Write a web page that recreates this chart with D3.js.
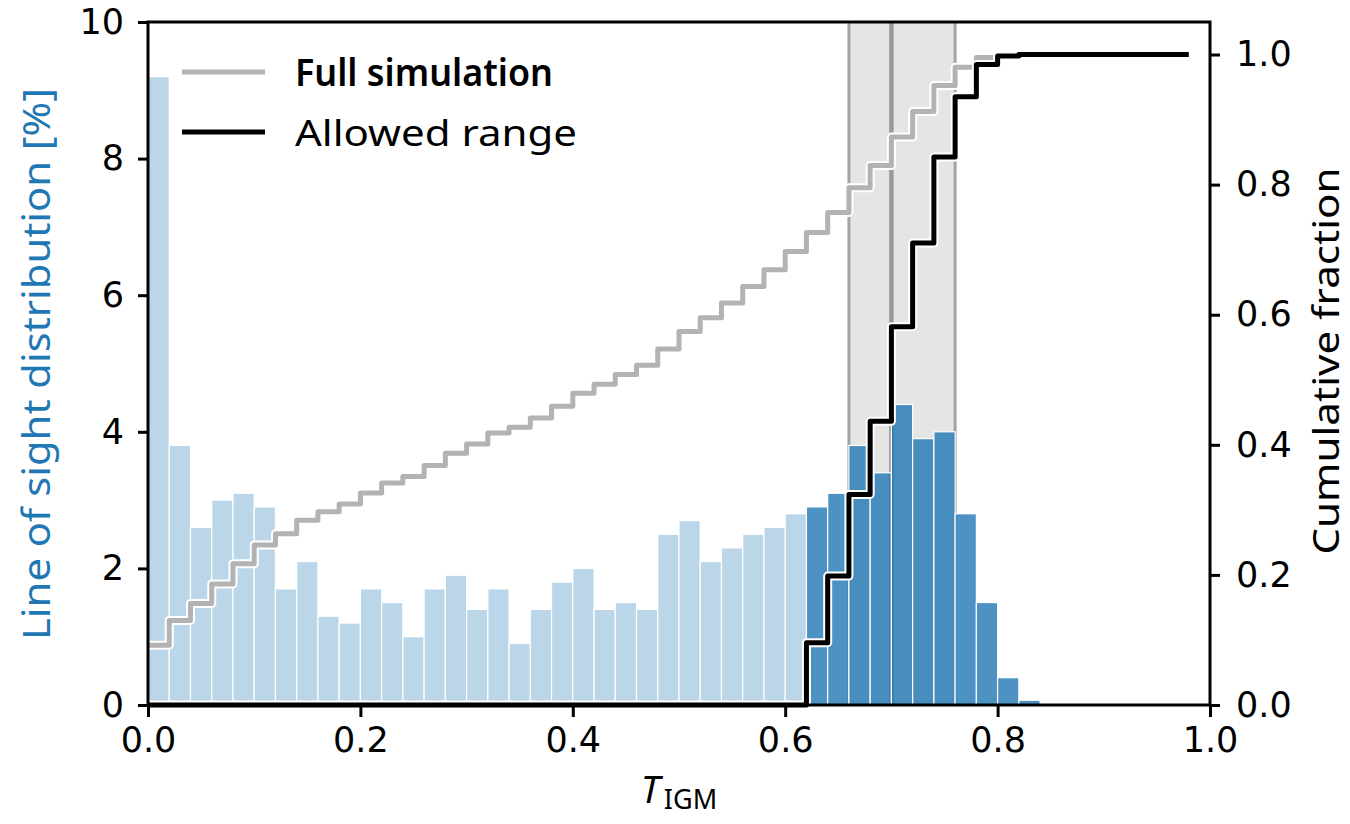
<!DOCTYPE html>
<html>
<head>
<meta charset="utf-8">
<script src="https://cdn.jsdelivr.net/npm/d3@7"></script>
<style>
  body { margin: 0; background: #fff; }
  .tick text { font-family: "DejaVu Sans", sans-serif; font-size: 35px; fill: #000; }
</style>
</head>
<body>
<svg width="1350" height="824"></svg>
<script>
// line of sight distribution per bin of T_IGM (bin width 0.02), in percent
var binStart = d3.range(0, 1, 0.02).map(d => +d.toFixed(2));
var losPct = [
  9.2, 3.8, 2.6, 3.0, 3.1, 2.9, 1.7, 2.1, 1.3, 1.2,
  1.7, 1.5, 1.0, 1.7, 1.9, 1.4, 1.7, 0.9, 1.4, 1.8,
  2.0, 1.4, 1.5, 1.4, 2.5, 2.7, 2.1, 2.3, 2.5, 2.6,
  2.8, 2.9, 3.1, 3.8, 3.4, 4.4, 3.9, 4.0, 2.8, 1.5,
  0.4, 0.07, 0, 0, 0, 0, 0, 0, 0, 0
];
var allowedMin = 0.62;           // bins from here on are the allowed range
var spanRange = [0.66, 0.76];    // shaded band
var spanLines = [0.66, 0.70, 0.76];
var xTicks = [0, 0.2, 0.4, 0.6, 0.8, 1.0];
var yTicks = [0, 2, 4, 6, 8, 10];
var cTicks = [0, 0.2, 0.4, 0.6, 0.8, 1.0];

var svg = d3.select("svg"),
  margin = {left: 148, right: 140, top: 22, bottom: 119},
  width = +svg.attr("width") - margin.left - margin.right,
  height = +svg.attr("height") - margin.top - margin.bottom;

var x = d3.scaleLinear().domain([0, 1]).range([0, width]);
var y = d3.scaleLinear().domain([0, 10]).range([height, 0]);
var yc = d3.scaleLinear().domain([0, 1.05]).range([height, 0]);

var g = svg.append("g").attr("transform", "translate(" + margin.left + "," + margin.top + ")");

// shaded band and its edges
g.append("rect")
  .attr("x", x(spanRange[0]))
  .attr("y", 0)
  .attr("width", x(spanRange[1]) - x(spanRange[0]))
  .attr("height", height)
  .attr("fill", "#e5e5e5");

g.selectAll(".vline")
  .data(spanLines)
  .enter().append("line")
  .attr("x1", d => x(d)).attr("x2", d => x(d))
  .attr("y1", 0).attr("y2", height)
  .attr("stroke", (d, i) => i == 1 ? "#999999" : "#a4a4a4")
  .attr("stroke-width", (d, i) => i == 1 ? 4.5 : 3);

// histogram bars
var bins = binStart.map(function(s, i) { return {x0: s, v: losPct[i], allowed: s >= allowedMin - 1e-9}; });

g.selectAll(".bar")
  .data(bins.filter(d => d.v > 0))
  .enter().append("rect")
  .attr("x", d => x(d.x0))
  .attr("y", d => y(d.v))
  .attr("width", x(0.02) - x(0))
  .attr("height", d => height - y(d.v))
  .attr("fill", d => d.allowed ? "rgba(31,119,180,0.8)" : "rgba(31,119,180,0.3)")
  .attr("stroke", "#fff")
  .attr("stroke-width", 1.2);

// cumulative fractions
var total = d3.sum(losPct);
var cumFull = Array.from(d3.cumsum(losPct), d => d / total);
var allowedVals = bins.map(d => d.allowed ? d.v : 0);
var totalAllowed = d3.sum(allowedVals);
var cumAllowed = Array.from(d3.cumsum(allowedVals), d => d / totalAllowed);

var step = d3.line()
  .x(d => x(d[0]))
  .y(d => yc(d[1]))
  .curve(d3.curveStepAfter);

function drawStep(values, color) {
  var pts = binStart.map((s, i) => [s, values[i]]);
  g.append("path").attr("d", step(pts))
    .attr("fill", "none").attr("stroke", "#fff").attr("stroke-width", 9)
    .attr("stroke-linejoin", "round");
  g.append("path").attr("d", step(pts))
    .attr("fill", "none").attr("stroke", color).attr("stroke-width", 5)
    .attr("stroke-linejoin", "round");
}
drawStep(cumFull, "#b3b3b3");
drawStep(cumAllowed, "#000");

// frame
g.append("rect")
  .attr("width", width).attr("height", height)
  .attr("fill", "none").attr("stroke", "#000").attr("stroke-width", 3);

// axes
function styleAxis(sel) {
  sel.select(".domain").remove();
  sel.selectAll(".tick line").attr("stroke", "#000").attr("stroke-width", 3);
}

g.append("g")
  .attr("transform", "translate(0," + height + ")")
  .call(d3.axisBottom(x).tickValues(xTicks).tickSize(12).tickPadding(10).tickFormat(d3.format(".1f")))
  .call(styleAxis);

g.append("g")
  .call(d3.axisLeft(y).tickValues(yTicks).tickSize(10).tickPadding(14).tickFormat(d3.format("d")))
  .call(styleAxis);

g.append("g")
  .attr("transform", "translate(" + width + ",0)")
  .call(d3.axisRight(yc).tickValues(cTicks).tickSize(10).tickPadding(16).tickFormat(d3.format(".1f")))
  .call(styleAxis);

// axis labels
svg.append("text")
  .attr("transform", "translate(50,364) rotate(-90)")
  .attr("text-anchor", "middle")
  .attr("font-family", "Noto Sans")
  .attr("font-size", 39)
  .attr("textLength", 552)
  .attr("lengthAdjust", "spacingAndGlyphs")
  .attr("fill", "#1f77b4")
  .text("Line of sight distribution [%]");

svg.append("text")
  .attr("transform", "translate(1339,361) rotate(-90)")
  .attr("text-anchor", "middle")
  .attr("font-family", "Noto Sans")
  .attr("font-size", 37)
  .attr("textLength", 387)
  .attr("lengthAdjust", "spacingAndGlyphs")
  .attr("fill", "#000")
  .text("Cumulative fraction");

var xl = svg.append("text")
  .attr("x", margin.left + width / 2)
  .attr("y", 803)
  .attr("text-anchor", "middle")
  .attr("font-family", "Noto Sans")
  .attr("fill", "#000");
xl.append("tspan").attr("font-style", "italic").attr("font-size", 38).text("T");
xl.append("tspan").attr("font-size", 27).attr("dx", 4).attr("dy", 6).text("IGM");

// legend
var legend = [
  {label: "Full simulation", color: "#b3b3b3", weight: 600, len: 258},
  {label: "Allowed range", color: "#000", weight: 400, len: 282}
];
var lg = svg.append("g").attr("transform", "translate(182,72)");
legend.forEach(function(d, i) {
  lg.append("line")
    .attr("x1", 0).attr("x2", 83)
    .attr("y1", i * 60).attr("y2", i * 60)
    .attr("stroke", d.color).attr("stroke-width", 5);
  lg.append("text")
    .attr("x", 113).attr("y", i * 60 + 14)
    .attr("font-family", "Noto Sans")
    .attr("font-size", 37)
    .attr("font-weight", d.weight)
    .attr("textLength", d.len)
    .attr("lengthAdjust", "spacingAndGlyphs")
    .text(d.label);
});
</script>
</body>
</html>
